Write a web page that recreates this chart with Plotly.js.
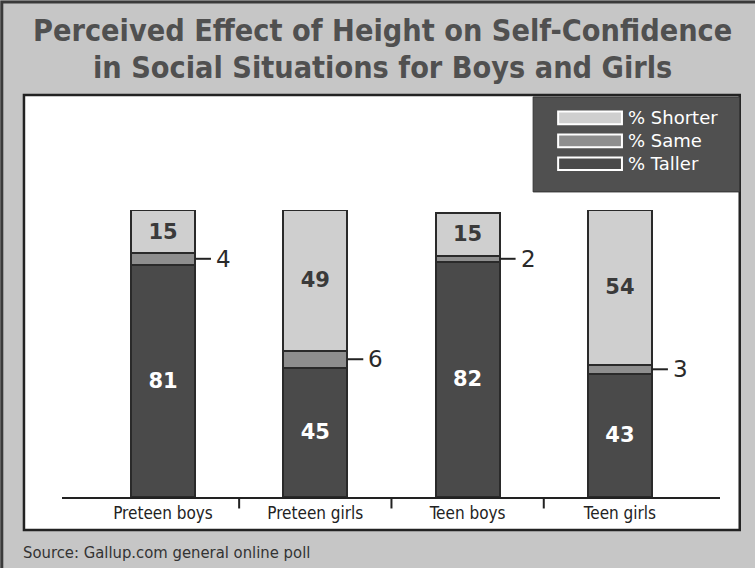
<!DOCTYPE html>
<html>
<head>
<meta charset="utf-8">
<script src="https://cdn.plot.ly/plotly-3.0.1.min.js"></script>
<style>html,body{margin:0;padding:0;background:#c6c6c6;}#chart{width:755px;height:568px;}</style>
</head>
<body>
<div id="chart"></div>
<script>
const categories = ["Preteen boys", "Preteen girls", "Teen boys", "Teen girls"];
const taller = [81, 45, 82, 43];
const same = [4, 6, 2, 3];
const shorter = [15, 49, 15, 54];
const seriesNames = ["% Shorter", "% Same", "% Taller"];
const titleLines = ["Perceived Effect of Height on Self-Confidence", "in Social Situations for Boys and Girls"];
const sourceText = "Source: Gallup.com general online poll";

const colTaller = "#4a4a4a", colSame = "#8e8e8e", colShorter = "#cfcfcf";
const outline = {color: "#2a2a2a", width: 2};
const barW = 0.42;
const FONT = "DejaVu Sans Condensed, Liberation Sans Narrow, Arial Narrow, sans-serif";
const NUMFONT = "DejaVu Sans, Verdana, sans-serif";

const traces = [
  {type: "bar", name: seriesNames[2], x: categories, y: taller, width: barW,
   marker: {color: colTaller, line: outline},
   text: taller.map(String), textposition: "inside", insidetextanchor: "middle",
   textangle: 0, constraintext: "none",
   textfont: {family: NUMFONT, size: 21, color: "#ffffff", weight: "bold"},
   hoverinfo: "skip", showlegend: false},
  {type: "bar", name: seriesNames[1], x: categories, y: same, width: barW,
   marker: {color: colSame, line: outline}, textposition: "none",
   hoverinfo: "skip", showlegend: false},
  {type: "bar", name: seriesNames[0], x: categories, y: shorter, width: barW,
   marker: {color: colShorter, line: outline},
   text: shorter.map(String), textposition: "inside", insidetextanchor: "middle",
   textangle: 0, constraintext: "none",
   textfont: {family: NUMFONT, size: 21, color: "#3a3a3a", weight: "bold"},
   hoverinfo: "skip", showlegend: false}
];

const shapes = [];
const annotations = [];

// outer frame
shapes.push({type: "rect", xref: "paper", yref: "paper", x0: -0.0915, x1: 1.06, y0: 1.725, y1: -0.26,
  line: {color: "#3a3a3a", width: 3}, fillcolor: "rgba(0,0,0,0)", layer: "below"});
// white panel
shapes.push({type: "rect", xref: "paper", yref: "paper", x0: -0.0578, x1: 1.030, y0: 1.401, y1: -0.115,
  line: {color: "#222", width: 2.5}, fillcolor: "#ffffff", layer: "below"});

// category separator ticks
for (let i = 0; i < categories.length - 1; i++) {
  shapes.push({type: "line", xref: "x", yref: "paper", x0: i + 0.5, x1: i + 0.5, y0: 0, y1: -0.04,
    line: {color: "#222", width: 2}});
}

// outside labels for "% Same"
categories.forEach((c, i) => {
  const ym = taller[i] + same[i] / 2;
  shapes.push({type: "line", xref: "x", yref: "y", x0: i + barW / 2, x1: i + barW / 2 + 0.105, y0: ym, y1: ym,
    line: {color: "#222", width: 2}});
  annotations.push({xref: "x", yref: "y", x: i + barW / 2 + 0.105, y: ym, text: String(same[i]),
    showarrow: false, xanchor: "left", yanchor: "middle", xshift: 3,
    font: {family: NUMFONT, size: 23, color: "#2a2a2a"}});
});

// legend box
shapes.push({type: "rect", xref: "paper", yref: "paper", x0: 0.716, x1: 1.030, y0: 1.063, y1: 1.394,
  line: {color: "#333", width: 1}, fillcolor: "#505050"});
const legCols = [colShorter, colSame, colTaller];
seriesNames.forEach((n, k) => {
  const yc = 1.321 - k * 0.08;
  shapes.push({type: "rect", xref: "paper", yref: "paper", x0: 0.754, x1: 0.851, y0: yc - 0.022, y1: yc + 0.022,
    line: {color: "#ffffff", width: 2}, fillcolor: legCols[k]});
  annotations.push({xref: "paper", yref: "paper", x: 0.857, y: yc, text: n, showarrow: false,
    xanchor: "left", yanchor: "middle", font: {family: NUMFONT, size: 18, color: "#ffffff"}});
});

// title (two lines)
titleLines.forEach((t, k) => {
  annotations.push({xref: "paper", yref: "paper", x: 0.487, y: 1.625 - k * 0.13, text: t, showarrow: false,
    xanchor: "center", yanchor: "middle",
    font: {family: FONT, size: 30.3, color: "#505050", weight: "bold"}});
});

// source
annotations.push({xref: "paper", yref: "paper", x: -0.062, y: -0.192, text: sourceText, showarrow: false,
  xanchor: "left", yanchor: "middle", font: {family: FONT, size: 16.5, color: "#333"}});

const layout = {
  width: 755, height: 568,
  margin: {l: 62, r: 35, t: 210, b: 71, pad: 0},
  paper_bgcolor: "#c6c6c6",
  plot_bgcolor: "rgba(0,0,0,0)",
  barmode: "stack",
  showlegend: false,
  xaxis: {type: "category", range: [-0.663, 3.657], showline: true, linecolor: "#222", linewidth: 2,
    ticks: "", showgrid: false, zeroline: false, fixedrange: true,
    tickfont: {family: FONT, size: 17, color: "#222"}},
  yaxis: {range: [0, 100], visible: false, showgrid: false, zeroline: false, fixedrange: true},
  shapes: shapes,
  annotations: annotations
};

Plotly.newPlot("chart", traces, layout, {staticPlot: true, displayModeBar: false});
</script>
</body>
</html>
